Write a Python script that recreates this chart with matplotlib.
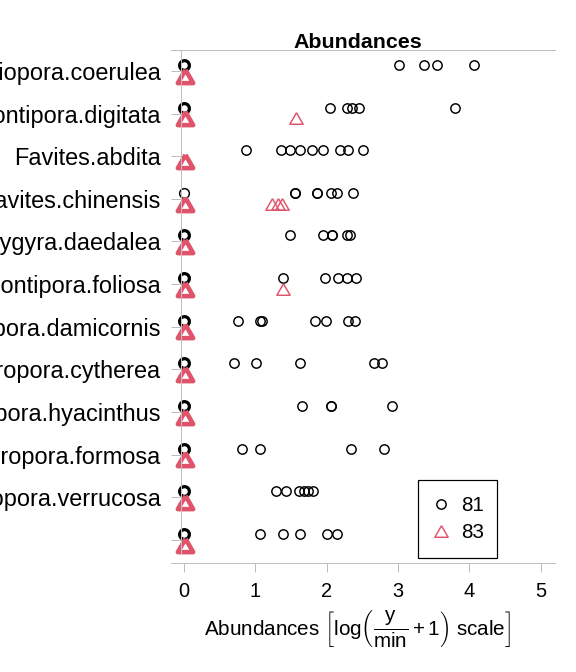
import matplotlib
matplotlib.use("Agg")
import matplotlib.pyplot as plt
from matplotlib.lines import Line2D
from matplotlib.patches import Rectangle

plt.rcParams['font.family'] = ['Liberation Sans', 'DejaVu Sans']
plt.rcParams['mathtext.fontset'] = 'custom'
plt.rcParams['mathtext.rm'] = 'Liberation Sans'
plt.rcParams['mathtext.it'] = 'Liberation Sans:italic'
plt.rcParams['mathtext.bf'] = 'Liberation Sans:bold'

species = ["Heliopora.coerulea", "Montipora.digitata", "Favites.abdita", "Favites.chinensis",
           "Platygyra.daedalea", "Montipora.foliosa", "Pocillopora.damicornis", "Acropora.cytherea",
           "Acropora.hyacinthus", "Acropora.formosa", "Pocillopora.verrucosa", ""]
groups = ["81", "83"]

abund_81 = [
    [0, 0, 0, 3.01, 3.36, 3.55, 4.07],
    [0, 0, 2.04, 2.29, 2.36, 2.45, 3.80],
    [0.87, 1.36, 1.48, 1.63, 1.80, 1.95, 2.18, 2.30, 2.51],
    [0, 1.56, 1.56, 1.87, 1.87, 2.06, 2.15, 2.37],
    [0, 0, 1.48, 1.95, 2.07, 2.07, 2.29, 2.32],
    [0, 0, 1.39, 1.98, 2.16, 2.28, 2.41],
    [0, 0, 0.76, 1.06, 1.09, 1.84, 1.99, 2.30, 2.39],
    [0, 0, 0.70, 1.01, 1.63, 2.66, 2.78],
    [0, 0, 1.66, 2.06, 2.06, 2.92],
    [0, 0, 0, 0.82, 1.06, 2.34, 2.80],
    [0, 0, 1.29, 1.43, 1.61, 1.68, 1.74, 1.81],
    [0, 0, 1.06, 1.39, 1.63, 2.00, 2.14],
]
abund_83 = [
    [0, 0, 0],
    [0, 0, 1.57],
    [0, 0, 0],
    [0, 0, 1.24, 1.32, 1.38],
    [0, 0, 0],
    [0, 0, 1.39],
    [0, 0, 0],
    [0, 0, 0],
    [0, 0, 0],
    [0, 0, 0],
    [0, 0, 0],
    [0, 0, 0],
]
xticks = [0, 1, 2, 3, 4, 5]

GRAY = "#BEBEBE"
RED = "#DF536B"
tri = [(0, 1), (-1.1547, -1), (1.1547, -1), (0, 1)]

fig = plt.figure(figsize=(6, 7), dpi=96)
ax = fig.add_axes([171/576, 1-563/672, 384/576, 513/672])
ax.set_xlim(-0.182, 5.2)
ax.set_ylim(12.54, 0.51)

off81, off83 = -0.14, 0.11
for i, (a, b) in enumerate(zip(abund_81, abund_83)):
    y = i + 1
    nz = [v for v in a if v != 0]
    n0 = len(a) - len(nz)
    if nz:
        ax.plot(nz, [y + off81]*len(nz), ls='none', marker='o', ms=7.0, mfc='none',
                mec='black', mew=1.1)
    if n0:
        ax.plot([0], [y + off81], ls='none', marker='o', ms=7.3, mfc='none',
                mec='black', mew=1.1 if n0 == 1 else 2.4)
    nzb = [v for v in b if v != 0]
    n0b = len(b) - len(nzb)
    if nzb:
        ax.plot(nzb, [y + off83]*len(nzb), ls='none', marker=tri, ms=10, mfc='none',
                mec=RED, mew=1.1)
    if n0b:
        ax.plot([0.01], [y + off83], ls='none', marker=tri, ms=11.5, mfc='none',
                mec=RED, mew=3.4)

for s in ['left', 'right']:
    ax.spines[s].set_visible(False)
for s in ['top', 'bottom']:
    ax.spines[s].set_color(GRAY)
    ax.spines[s].set_linewidth(0.75)
ax.axvline(-0.04, ymin=0.02, ymax=1, color=GRAY, lw=0.75)

ax.set_yticks(range(1, len(species)+1))
ax.set_yticklabels(species)
ax.tick_params(axis='y', direction='in', length=7.5, width=0.75, color=GRAY,
               pad=7.5, labelsize=17.6)
ax.set_xticks(xticks)
ax.set_xticklabels([str(t) for t in xticks])
ax.tick_params(axis='x', direction='out', length=7, width=0.75, color=GRAY,
               pad=7.5, labelsize=15)

ax.text(0.486, 1 + 2/513, "Abundances", transform=ax.transAxes, ha='center',
        va='baseline', fontsize=16, fontweight='bold')

fig.text(357.5/576, 1-630/672,
         r'Abundances $\left[\mathrm{log}\left(\dfrac{\mathrm{y}}{\mathrm{min}}+1\right)\ \mathrm{scale}\right]$',
         ha='center', va='center', fontsize=15.5)

handles = [Line2D([], [], ls='none', marker='o', ms=7.0, mfc='none', mec='black', mew=1.1),
           Line2D([], [], ls='none', marker=tri, ms=10, mfc='none', mec=RED, mew=1.1)]
leg = ax.legend(handles, groups, loc='center', bbox_to_anchor=(457.5/576, 1-519/672),
                bbox_transform=fig.transFigure, frameon=False,
                fontsize=15.5, borderpad=0, handlelength=1.0, handletextpad=0.5,
                labelspacing=0.4, borderaxespad=0)
fig.patches.append(Rectangle((418/576, 1-558/672), 79/576, 78/672, transform=fig.transFigure,
                             fill=False, edgecolor='black', lw=0.9, figure=fig))

fig.savefig("out.png", dpi=96)
